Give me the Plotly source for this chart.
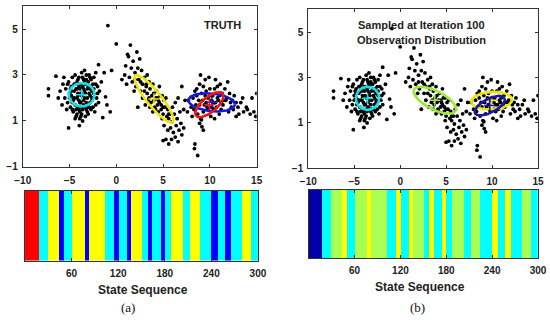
import numpy as np
import plotly.graph_objects as go

# ---------------- observations (same data in both panels) ----------------
cluster1_x = [-3.7,-3.4,-4.0,-4.3,-3.1,-3.8,-3.5,-4.6,-2.8,-4.1,-3.2,-4.8,-2.6,-3.9,-4.4,-3.0,-3.6,-5.0,-2.4,-3.3,
              -4.2,-2.9,-5.2,-4.7,-2.7,-3.7,-2.1,-5.4,-4.1,-3.4,-3.8,-3.1,-4.5,-4.0,-3.3,-2.8,-4.3,-3.6,-2.5,-4.9,
              -5.5,-2.0,-2.2,-5.1,-3.2,-4.4,-2.4,-3.9,-3.0,-4.6,-5.7,-1.8,-3.5,-4.1,-2.7,-4.8,-3.2,-3.7,-2.3,-4.2,
              -2.9,-5.3,-1.9,-3.4,-4.5,-2.6,-3.8,-4.0,-3.1,-4.7,-3.5,-4.2,-2.8,-3.9,-4.9,-2.5,-3.6,-4.4,-6.0,-5.8,
              -5.6,-2.2,-6.2,-1.6,-7.25,-7.25,-6.45,-5.1,-3.95,-1.9,-0.5,-0.65,-1.45,-1.15,-0.9,-1.3,-1.0,
              -3.6,-4.1,-3.3,-2.9,-4.4,-3.9,-3.0,-4.6,-3.4,-2.6,-4.2,-3.7,-3.1,-4.8,-2.4,-3.5,-4.0,-2.7,-5.0,-3.8,
              -4.3,-2.2,-5.2,-2.0,-4.7,-3.2,-3.9,-3.3,-4.5,-2.8]
cluster1_y = [2.1,2.3,1.9,2.4,2.0,2.6,1.7,2.0,2.4,2.8,1.5,2.5,1.9,1.4,1.7,2.7,2.9,2.2,2.2,1.2,
              1.3,1.6,1.8,2.9,2.8,3.1,2.0,2.4,2.2,2.0,1.8,2.4,2.3,2.5,2.6,2.1,1.5,1.5,1.6,1.6,
              2.0,2.5,1.7,2.7,3.0,3.0,2.9,1.1,1.3,1.4,2.6,2.3,2.4,1.6,2.5,2.1,1.8,1.3,1.4,2.7,
              3.0,1.5,1.8,3.2,2.6,2.3,2.2,1.5,1.6,1.8,1.9,2.0,1.8,2.4,2.4,2.6,1.0,1.1,2.3,1.7,
              2.9,3.1,2.0,2.7,2.4,2.1,2.95,0.7,0.8,3.45,3.2,1.4,1.15,2.05,5.15,3.1,1.7,
              2.5,2.1,1.6,2.2,2.6,1.8,2.5,1.9,2.7,2.0,2.4,1.6,1.4,2.3,2.4,2.8,2.9,1.5,2.0,1.2,
              1.2,2.6,2.6,2.2,1.5,2.8,2.6,2.2,2.0,2.9]

cluster2_x = [0.0,1.5,2.2,1.3,1.8,2.5,1.0,1.6,2.3,0.9,1.4,2.0,2.7,1.1,1.7,2.4,3.0,2.1,2.8,3.2,0.6,1.9,3.5,2.6,
              3.0,3.3,3.6,3.8,4.0,3.7,4.2,4.4,4.1,4.6,4.8,4.5,5.0,5.2,5.4,5.6,5.8,5.9,4.3,4.7,5.1,3.4,3.1,2.8,
              3.9,4.9,5.5,6.0,5.3,4.6,3.9,3.3,2.3,4.0,4.4,4.8,3.6,
              5.1,5.5,5.8,6.1,6.4,6.7,7.0,6.3,5.9,5.3,5.0,5.6,6.6,7.2,6.9,6.5,6.2,6.8,7.0,7.35,6.6,7.2,6.3,
              3.5,4.2,4.5,5.0,3.2,2.6,4.9,5.6,1.2,2.0]
cluster2_y = [4.35,4.3,4.0,3.8,3.6,3.7,3.4,3.3,3.3,3.0,2.9,3.1,3.2,2.6,2.7,2.8,2.9,2.5,2.6,2.5,2.8,2.3,2.7,2.3,
              2.3,2.2,2.4,2.1,1.9,1.8,2.0,1.7,1.6,1.8,1.5,1.4,1.3,1.6,1.2,1.1,1.3,0.95,2.3,2.1,1.9,1.9,1.7,2.0,
              1.4,1.1,1.5,1.6,2.0,2.5,2.6,3.0,1.6,2.2,2.0,1.7,1.6,
              0.8,0.6,0.7,0.5,0.8,0.6,0.4,0.3,0.2,0.2,0.15,0.0,0.1,0.7,0.9,1.1,1.3,1.4,2.5,1.9,2.0,1.5,1.8,
              2.0,1.5,1.9,1.6,2.6,2.7,2.1,1.3,3.9,2.8]

cluster3_x = [10.2,9.8,10.6,9.4,11.0,9.1,11.4,8.8,10.0,10.4,9.6,11.8,8.5,10.8,9.3,11.2,8.9,10.1,12.1,8.2,
              12.3,9.5,10.5,8.7,11.6,12.6,8.0,9.0,11.0,12.8,8.4,9.7,10.3,10.9,9.2,11.5,7.7,7.6,8.1,12.0,
              9.0,9.9,10.6,11.9,8.6,10.7,9.5,11.3,12.4,8.3,
              13.0,13.3,13.6,13.1,14.0,14.3,14.7,14.5,15.0,13.9,12.8,14.9,13.5,
              8.4,8.35,8.7,9.15,9.1,9.3,8.9,
              10.0,9.6,10.8,11.2,9.3,10.5,11.7,8.9,10.2,12.2,9.8,11.1,8.6,12.5,10.4]
cluster3_y = [1.9,2.0,1.8,1.7,2.1,2.2,1.7,1.9,2.4,1.5,2.3,2.0,1.7,2.5,1.4,1.5,2.6,1.2,2.2,2.0,
              1.6,2.8,1.1,1.3,2.4,2.1,1.6,1.1,1.3,1.8,2.3,1.6,2.1,1.9,1.9,1.9,1.9,1.4,1.2,1.4,
              3.0,2.9,2.8,2.7,2.4,1.6,2.1,2.2,1.9,1.5,
              1.6,1.8,1.4,1.3,1.5,1.3,1.4,2.0,2.2,1.6,1.2,1.2,2.0,
              0.0,-0.2,-0.5,0.75,1.05,0.6,0.9,
              2.1,1.8,2.0,1.8,2.5,2.4,1.9,1.7,1.6,1.8,1.5,2.6,2.1,1.5,1.8]

obs_x = cluster1_x + cluster2_x + cluster3_x
obs_y = cluster1_y + cluster2_y + cluster3_y

# ---------------- Gaussian ellipses: centre, semi-axes, angle ----------------
truth_cx = [-3.7, 4.03, 10.19, 9.94]
truth_cy = [2.14, 1.96, 1.81, 1.71]
truth_a = [1.37, 3.19, 2.49, 1.85]
truth_b = [1.25, 0.78, 0.94, 0.80]
truth_ang = [0, -51.3, -6, 40]
truth_col = ["#10E0E8", "#EEE400", "#1818E0", "#EE1515"]

samp_cx = [-3.55, 3.77, 9.96, 9.75]
samp_cy = [2.08, 2.0, 1.98, 1.76]
samp_a = [1.27, 2.54, 2.23, 1.80]
samp_b = [1.25, 1.0, 0.94, 0.75]
samp_ang = [0, -27, 3, 27]
samp_col = ["#10E0E8", "#9BEA3A", "#EEE400", "#1818A8"]

# ---------------- state sequences ----------------
seg_bounds = [0,18,29,44,50,60,77,82,103,114,121,131,137,151,158,164,175,180,188,204,212,225,240,248,257,265,280,291,300]
truth_states = [0,1,2,3,1,2,3,2,1,3,1,3,2,1,3,1,3,1,2,1,2,1,3,1,3,1,2,1]
truth_colors = ["#FF0000", "#00FFFF", "#FFFF00", "#0000FF"]
samp_states = truth_states
samp_colors = ["#0000A8", "#00FFFF", "#AAFF55", "#FFFF00"]

seq_ticks = [60, 120, 180, 240, 300]
x_ticks = [-10, -5, 0, 5, 10, 15]
y_ticks = [-1, 1, 3, 5]

R = 2.46  # screen aspect (y-unit px / x-unit px)


def ellipse(cx, cy, a, b, ang):
    t = np.linspace(0, 2 * np.pi, 120)
    p = np.deg2rad(ang)
    X = cx + a * np.cos(t) * np.cos(p) - b * np.sin(t) * np.sin(p)
    Y = cy + (a * np.cos(t) * np.sin(p) + b * np.sin(t) * np.cos(p)) / R
    return X, Y


def expand(states):
    z = []
    for i, s in enumerate(states):
        z += [s] * (seg_bounds[i + 1] - seg_bounds[i])
    return z


def discrete_scale(cols):
    n = len(cols)
    sc = []
    for i, c in enumerate(cols):
        sc.append([i / n, c])
        sc.append([(i + 1) / n, c])
    return sc


fig = go.Figure()
for xa, ya, cxs, cys, aa, bb, angs, cols in [
    ("x", "y", truth_cx, truth_cy, truth_a, truth_b, truth_ang, truth_col),
    ("x2", "y2", samp_cx, samp_cy, samp_a, samp_b, samp_ang, samp_col),
]:
    fig.add_trace(go.Scatter(x=obs_x, y=obs_y, mode="markers", xaxis=xa, yaxis=ya,
                             marker=dict(color="black", size=3.8), showlegend=False, hoverinfo="skip"))
    for cx, cy, a, b, ang, c in zip(cxs, cys, aa, bb, angs, cols):
        X, Y = ellipse(cx, cy, a, b, ang)
        fig.add_trace(go.Scatter(x=X, y=Y, mode="lines", line=dict(color=c, width=2.6),
                                 xaxis=xa, yaxis=ya, showlegend=False, hoverinfo="skip"))
        fig.add_trace(go.Scatter(x=[cx], y=[cy], mode="markers", xaxis=xa, yaxis=ya,
                                 marker=dict(symbol="cross-thin", size=8, line=dict(color=c, width=1.5)),
                                 showlegend=False, hoverinfo="skip"))

xs = np.arange(300) + 0.5
for xa, ya, st, cols in [("x3", "y3", truth_states, truth_colors), ("x4", "y4", samp_states, samp_colors)]:
    fig.add_trace(go.Heatmap(x=xs, y=[0.5], z=[expand(st)], xaxis=xa, yaxis=ya,
                             colorscale=discrete_scale(cols), zmin=-0.5, zmax=3.5,
                             showscale=False, hoverinfo="skip"))

tf = dict(family="Liberation Sans, Arial", size=10, color="#222", weight="bold")
common = dict(showline=True, linecolor="#333", linewidth=1, mirror="allticks", ticks="inside",
              ticklen=3, tickcolor="#333", showgrid=False, zeroline=False, tickfont=tf,
              ticklabeloverflow="allow", automargin=False)
ycommon = dict(showticklabels=False, showline=True, linecolor="#333", mirror=True, ticks="",
               showgrid=False, zeroline=False, automargin=False)

fig.update_layout(
    width=550, height=328, margin=dict(l=0, r=0, t=0, b=0, autoexpand=False),
    paper_bgcolor="white", plot_bgcolor="white",
    xaxis=dict(domain=[0.0413, 0.4667], range=[-10, 15], tickvals=x_ticks, anchor="y",
               ticklabelstandoff=4, **common),
    yaxis=dict(domain=[0.4909, 0.9817], range=[-1, 6], tickvals=y_ticks, anchor="x",
               ticklabelstandoff=2, **common),
    xaxis2=dict(domain=[0.5605, 0.9782], range=[-10, 15], tickvals=x_ticks, anchor="y2",
                ticklabelstandoff=4, **common),
    yaxis2=dict(domain=[0.4869, 0.9716], range=[-1, 6], tickvals=y_ticks, anchor="x2",
                ticklabelstandoff=2, **common),
    xaxis3=dict(domain=[0.0455, 0.469], range=[0, 300], tickvals=seq_ticks, anchor="y3",
                ticklabelstandoff=3, **common),
    yaxis3=dict(domain=[0.2052, 0.4186], range=[0, 1], anchor="x3", **ycommon),
    xaxis4=dict(domain=[0.5613, 0.9782], range=[0, 300], tickvals=seq_ticks, anchor="y4",
                ticklabelstandoff=3, **common),
    yaxis4=dict(domain=[0.2134, 0.4207], range=[0, 1], anchor="x4", **ycommon),
)

bf = dict(family="Liberation Sans, Arial", size=11, color="#222", weight="bold")
sf = dict(family="Liberation Sans, Arial", size=12, color="#222", weight="bold")
pf = dict(family="Liberation Serif, Times New Roman", size=13, color="#111")
ann = [
    dict(text="TRUTH", x=11.3, y=5.16, xref="x", yref="y", font=bf),
    dict(text="Sampled at Iteration 100", x=2.33, y=5.32, xref="x2", yref="y2", font=bf),
    dict(text="Observation Distribution", x=2.33, y=4.66, xref="x2", yref="y2", font=bf),
    dict(text="State Sequence", x=0.26, y=0.116, xref="paper", yref="paper", font=sf),
    dict(text="State Sequence", x=0.7636, y=0.126, xref="paper", yref="paper", font=sf),
    dict(text="(a)", x=0.233, y=0.064, xref="paper", yref="paper", font=pf),
    dict(text="(b)", x=0.759, y=0.064, xref="paper", yref="paper", font=pf),
]
for a in ann:
    a.update(showarrow=False, xanchor="center", yanchor="middle")
fig.update_layout(annotations=ann)

fig.write_html("out.html", config={"displayModeBar": False},
               post_script="document.body.style.margin='0';document.body.style.padding='0';")
